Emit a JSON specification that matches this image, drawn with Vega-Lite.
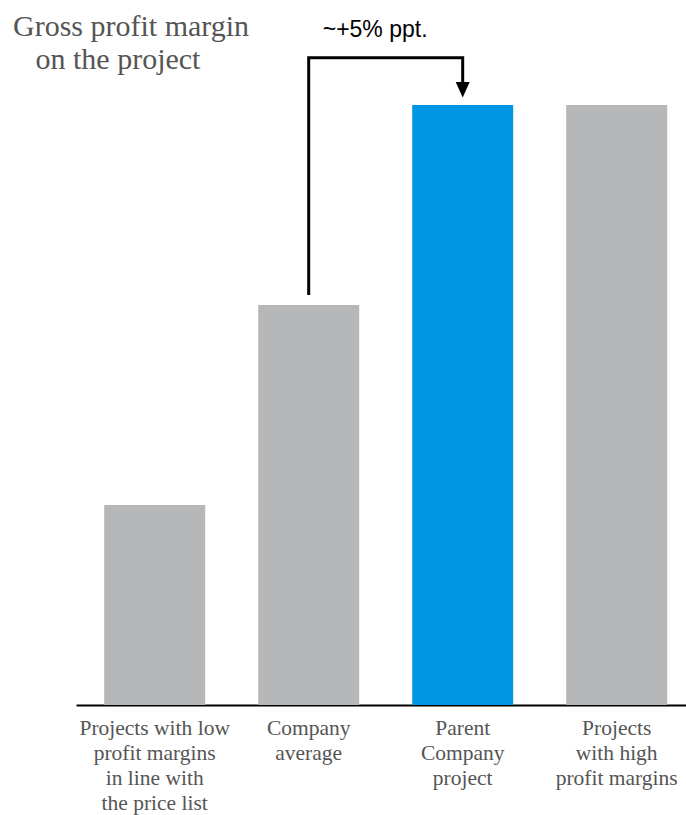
{
  "$schema": "https://vega.github.io/schema/vega-lite/v6.json",
  "autosize": {"type": "none"},
  "padding": {"left": 76, "top": 5, "right": 0, "bottom": 110},
  "width": 610,
  "height": 700,
  "background": "white",
  "title": {
    "text": ["Gross profit margin", "\u200b\u00a0\u00a0\u00a0on the project"],
    "anchor": "start",
    "frame": "group",
    "offset": 0,
    "dy": 70,
    "dx": -63,
    "font": "Liberation Serif",
    "fontSize": 30,
    "fontWeight": "normal",
    "color": "#555555",
    "lineHeight": 33
  },
  "config": {"view": {"stroke": null}},
  "datasets": {
    "bars": [
      {"cat": "Projects with low|profit margins|in line with|the price list", "value": 5, "group": "other"},
      {"cat": "Company|average", "value": 10, "group": "other"},
      {"cat": "Parent|Company|project", "value": 15, "group": "highlight"},
      {"cat": "Projects|with high|profit margins", "value": 15, "group": "other"}
    ],
    "bracket": [
      {"cat": "Company|average", "value": 10.25, "order": 1},
      {"cat": "Company|average", "value": 16.18, "order": 2},
      {"cat": "Parent|Company|project", "value": 16.18, "order": 3},
      {"cat": "Parent|Company|project", "value": 15.5, "order": 4}
    ],
    "arrow": [
      {"cat": "Parent|Company|project", "value": 15.38}
    ],
    "label": [
      {"cat": "Company|average", "value": 16.7, "text": "~+5% ppt."}
    ]
  },
  "layer": [
    {
      "data": {"name": "bars"},
      "mark": {"type": "bar"},
      "encoding": {
        "x": {
          "field": "cat", "type": "nominal", "sort": null,
          "scale": {"paddingInner": 0.344, "paddingOuter": 0.1525, "align": 0.6},
          "axis": {
            "title": null,
            "labelAngle": 0,
            "labelExpr": "split(datum.label, '|')",
            "labelFont": "Liberation Serif",
            "labelFontSize": 21.5,
            "labelColor": "#555555",
            "labelLineHeight": 25,
            "labelPadding": 12,
            "ticks": false,
            "tickSize": 0,
            "domainColor": "#000000",
            "domainWidth": 2,
            "labelLimit": 300
          }
        },
        "y": {
          "field": "value", "type": "quantitative",
          "scale": {"domain": [0, 17.5], "nice": false, "zero": true},
          "axis": null
        },
        "color": {
          "field": "group", "type": "nominal",
          "scale": {"domain": ["other", "highlight"], "range": ["#b6b7b9", "#0096e3"]},
          "legend": null
        }
      }
    },
    {
      "data": {"name": "bracket"},
      "mark": {"type": "line", "color": "#000000", "strokeWidth": 3, "strokeJoin": "miter", "strokeCap": "butt"},
      "encoding": {
        "x": {"field": "cat", "type": "nominal", "sort": null},
        "y": {"field": "value", "type": "quantitative"},
        "order": {"field": "order", "type": "quantitative"}
      }
    },
    {
      "data": {"name": "arrow"},
      "mark": {"type": "point", "shape": "M-1,-1.1L1,-1.1L0,1.1Z", "filled": true, "color": "#000000", "size": 196, "opacity": 1},
      "encoding": {
        "x": {"field": "cat", "type": "nominal", "sort": null},
        "y": {"field": "value", "type": "quantitative"}
      }
    },
    {
      "data": {"name": "label"},
      "mark": {"type": "text", "font": "Liberation Sans", "fontSize": 23, "color": "#000000", "align": "left", "baseline": "alphabetic", "dx": 14},
      "encoding": {
        "x": {"field": "cat", "type": "nominal", "sort": null},
        "y": {"field": "value", "type": "quantitative"},
        "text": {"field": "text"}
      }
    }
  ]
}
